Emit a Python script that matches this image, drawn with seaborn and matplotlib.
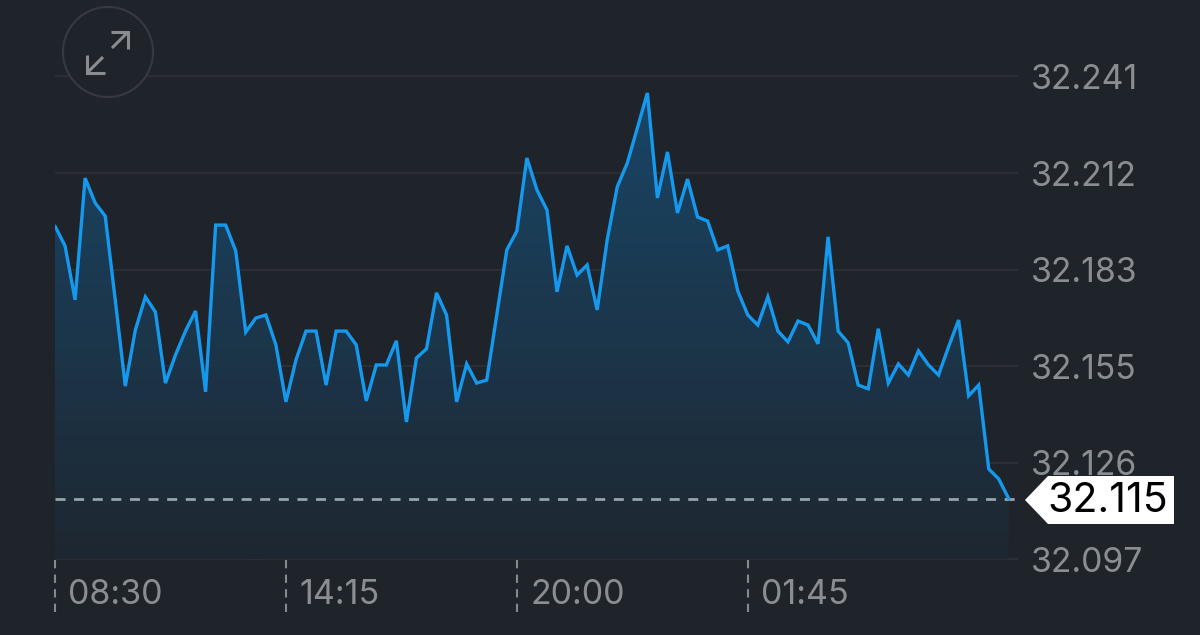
import numpy as np
import pandas as pd
import seaborn as sns
import matplotlib.pyplot as plt
from matplotlib.patches import Circle, Polygon
from matplotlib.transforms import ScaledTranslation

# price every 15 minutes
prices = [
    32.1964, 32.1905, 32.1744, 32.2107, 32.2033, 32.1994, 32.1744, 32.1487,
    32.1654, 32.1753, 32.1708, 32.1496, 32.1580, 32.1651, 32.1711, 32.1470,
    32.1967, 32.1967, 32.1890, 32.1648, 32.1690, 32.1699, 32.1610, 32.1440,
    32.1565, 32.1651, 32.1651, 32.1490, 32.1651, 32.1651, 32.1610, 32.1443,
    32.1550, 32.1550, 32.1622, 32.1380, 32.1571, 32.1598, 32.1765, 32.1699,
    32.1440, 32.1553, 32.1496, 32.1505, 32.1699, 32.1893, 32.1949, 32.2167,
    32.2072, 32.2012, 32.1768, 32.1905, 32.1818, 32.1848, 32.1714, 32.1923,
    32.2081, 32.2152, 32.2256, 32.2361, 32.2048, 32.2185, 32.2003, 32.2104,
    32.1991, 32.1979, 32.1893, 32.1905, 32.1771, 32.1699, 32.1669, 32.1753,
    32.1651, 32.1619, 32.1681, 32.1669, 32.1613, 32.1932, 32.1651, 32.1616,
    32.1490, 32.1479, 32.1658, 32.1496, 32.1553, 32.1520, 32.1592, 32.1550,
    32.1520, 32.1604, 32.1684, 32.1458, 32.1490, 32.1240, 32.1210, 32.1151,
]
steps = list(range(len(prices)))

y_ticks = [32.241, 32.2122, 32.1834, 32.1546, 32.1258, 32.097]
y_labels = ["32.241", "32.212", "32.183", "32.155", "32.126", "32.097"]
x_ticks = [0, 23, 46, 69]
x_labels = ["08:30", "14:15", "20:00", "01:45"]
last_label = "32.115"

BG = "#1f242b"
GRID = "#2b2e34"
TEXT = "#8a8d91"
LINE = "#1599ee"

sns.set_theme(style="dark", rc={"figure.facecolor": BG, "axes.facecolor": BG})
plt.rcParams["font.family"] = ["Inter", "DejaVu Sans"]

df = pd.DataFrame({"step": steps, "price": prices})

W, H = 1200, 635
fig = plt.figure(figsize=(W / 100, H / 100), dpi=100)
left, right, top, bottom = 55, 1018, 76.5, 559.5
ax = fig.add_axes([left / W, 1 - bottom / H, (right - left) / W, (bottom - top) / H])

ax.hlines(y_ticks, 0, 1, transform=ax.get_yaxis_transform(), color=GRID, lw=1.5,
          zorder=1, clip_on=False)

# gradient under the line, clipped to the area below it
area = ax.fill_between(steps, prices, y_ticks[-1], facecolor="none", edgecolor="none")
ramp = np.linspace(1, 0, 256)[:, None]
grad = np.dstack([(30 - 5 * ramp) / 255, (40 + 34 * ramp) / 255, (50 + 60 * ramp) / 255,
                  np.full_like(ramp, 0.9)])
im = ax.imshow(grad, aspect="auto", zorder=2, interpolation="bilinear",
               extent=[0, 96, y_ticks[-1], 32.2361])
im.set_clip_path(area.get_paths()[0], transform=ax.transData)

sns.lineplot(data=df, x="step", y="price", ax=ax, color=LINE, lw=2.4, zorder=4,
             errorbar=None, solid_joinstyle="miter")

ax.axhline(prices[-1], color="#9aa3ab", lw=2.0, dashes=(3.6, 3.1), zorder=3)

ax.set_xlim(0, (right - left) / 10.04)
ax.set_ylim(y_ticks[-1], y_ticks[0])
ax.set_xlabel("")
ax.set_ylabel("")
sns.despine(ax=ax, left=True, bottom=True)

ax.yaxis.tick_right()
ax.set_yticks(y_ticks, y_labels)
ax.tick_params(axis="y", length=0, pad=9, labelsize=24.3, labelcolor=TEXT)
ax.set_xticks(x_ticks, x_labels)
ax.tick_params(axis="x", length=0, pad=14, labelsize=24.5, labelcolor=TEXT)
shift = ScaledTranslation(9.5 / 72, 0, fig.dpi_scale_trans)
for lab in ax.get_xticklabels():
    lab.set_ha("left")
    lab.set_transform(lab.get_transform() + shift)

# overlay in pixel coordinates for the chrome
over = fig.add_axes([0, 0, 1, 1], facecolor="none")
over.set_xlim(0, W)
over.set_ylim(H, 0)
over.axis("off")

for t in x_ticks:
    x = left + t * 10.04
    over.plot([x, x], [560, 612], color="#85888d", lw=1.5, dashes=(4, 3))

# expand button
over.add_patch(Circle((108, 52), 45, facecolor=BG, edgecolor="#36393f", lw=1.6))
icon = "#8a8c90"
over.plot([112, 128], [48, 32], color=icon, lw=2.2, solid_capstyle="butt")
over.plot([111, 128, 128], [32, 32, 49], color=icon, lw=2.2, solid_joinstyle="miter", solid_capstyle="butt")
over.plot([103, 87], [57, 73], color=icon, lw=2.2, solid_capstyle="butt")
over.plot([87, 87, 105], [55, 73, 73], color=icon, lw=2.2, solid_joinstyle="miter", solid_capstyle="butt")

# last price tag
over.add_patch(Polygon([(1025, 500), (1048, 476), (1174, 476), (1174, 524), (1048, 524)],
                       facecolor="white", edgecolor="none"))
over.text(1108, 501, last_label, color="black", fontsize=29.5, ha="center", va="center")

fig.savefig("out.png", dpi=100, facecolor=BG)
